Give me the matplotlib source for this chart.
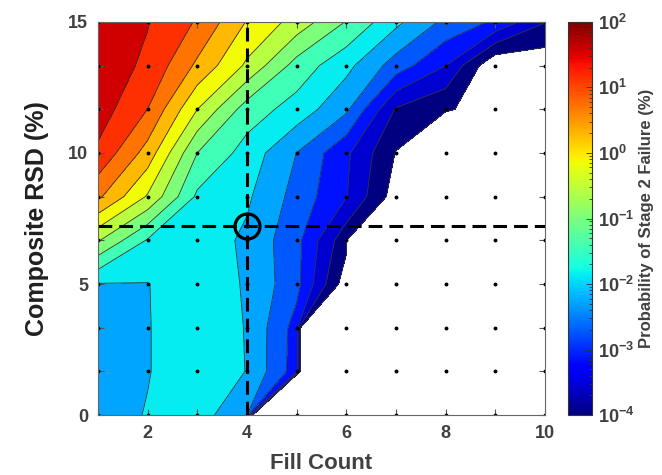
import numpy as np
import matplotlib.pyplot as plt
from matplotlib.colors import LogNorm
from matplotlib.cm import ScalarMappable
from matplotlib.ticker import MultipleLocator, FixedLocator, LogLocator

plt.rcParams['font.family'] = ['Liberation Sans', 'DejaVu Sans']
plt.rcParams['font.weight'] = 'bold'
plt.rcParams['mathtext.fontset'] = 'custom'
plt.rcParams['mathtext.rm'] = 'Liberation Sans:bold'
plt.rcParams['mathtext.it'] = 'Liberation Sans:bold'
plt.rcParams['mathtext.bf'] = 'Liberation Sans:bold'

fill_count = [1, 2, 3, 4, 5, 6, 7, 8, 9, 10]
rsd = [0, 5 / 3, 10 / 3, 5, 20 / 3, 25 / 3, 10, 35 / 3, 40 / 3, 15]

# log10 of stage 2 failure probability (%), one list per RSD row (bottom to top)
# nan = no failures seen
nf = np.nan
logp_r0 = [-2.07, -1.83, -1.64, -2.27, nf, nf, nf, nf, nf, nf]
logp_r1 = [-2.07, -1.88, -1.56, -1.87, -2.93, nf, nf, nf, nf, nf]
logp_r2 = [-2.07, -1.88, -1.56, -1.88, -2.89, nf, nf, nf, nf, nf]
logp_r3 = [-1.88, -1.87, -1.60, -1.90, -2.58, -4.26, nf, nf, nf, nf]
logp_r4 = [-0.53, -1.47, -1.60, -1.94, -2.59, -3.87, nf, nf, nf, nf]
logp_r5 = [0.80, -0.19, -1.51, -1.79, -2.44, -3.12, -4.21, -4.86, -5.07, -5.29]
logp_r6 = [1.49, 0.54, -1.00, -1.60, -2.29, -3.06, -4.02, -4.64, -4.86, -5.07]
logp_r7 = [1.79, 1.14, -0.14, -1.21, -1.60, -2.20, -3.61, -3.96, -4.17, -4.64]
logp_r8 = [1.79, 1.50, 0.63, -0.22, -1.17, -1.73, -2.48, -3.14, -4.40, -4.32]
logp_r9 = [1.91, 1.59, 1.10, 0.26, -0.31, -1.02, -1.75, -2.39, -2.78, -3.55]

design_count = 4
design_rsd = 7.2

X, Y = np.meshgrid(fill_count, rsd)
Z = np.array([logp_r0, logp_r1, logp_r2, logp_r3, logp_r4,
              logp_r5, logp_r6, logp_r7, logp_r8, logp_r9])
Z = np.where(np.isnan(Z), -17.0, Z)

levels = np.linspace(-4, 2, 15)
band_colors = [plt.cm.jet(k / 14) for k in range(14)]

fig = plt.figure(figsize=(6.62, 4.75), dpi=100)
ax = fig.add_axes([0.148, 0.126, 0.675, 0.828])

ax.contourf(X, Y, Z, levels=levels, colors=band_colors)
ax.contour(X, Y, Z, levels=levels, colors='#333333', linewidths=0.6,
           linestyles='solid')

ax.plot(X.ravel(), Y.ravel(), 'o', color='k', ms=1.8, ls='none')

ax.axvline(design_count, color='k', lw=2.2, dashes=(4.5, 2.3))
ax.axhline(design_rsd, color='k', lw=2.2, dashes=(4.5, 2.3))
ax.plot(design_count, design_rsd, 'o', mfc='none', mec='k', ms=18, mew=2.3)

ax.set_xlim(1, 10)
ax.set_ylim(0, 15)
ax.xaxis.set_major_locator(FixedLocator([2, 4, 6, 8, 10]))
ax.xaxis.set_minor_locator(FixedLocator([1, 3, 5, 7, 9]))
ax.yaxis.set_major_locator(MultipleLocator(5))
ax.yaxis.set_minor_locator(MultipleLocator(5 / 3))
ax.tick_params(which='both', direction='in', top=True, right=True,
               length=4, width=0.8, color='#555555')
ax.tick_params(labelsize=13, labelcolor='#404040', pad=7)
for s in ax.spines.values():
    s.set_color('#666666')
    s.set_linewidth(0.8)

ax.set_xlabel('Fill Count', fontsize=16, fontweight='bold', color='#404040',
              labelpad=8)
ax.set_ylabel('Composite RSD (%)', fontsize=18, fontweight='bold', color='#202020',
              labelpad=14)

cax = fig.add_axes([0.858, 0.126, 0.037, 0.828])
sm = ScalarMappable(norm=LogNorm(1e-4, 1e2), cmap='jet')
cbar = fig.colorbar(sm, cax=cax)
exps = [-4, -3, -2, -1, 0, 1, 2]
cbar.set_ticks([10.0 ** e for e in exps])
cbar.set_ticklabels([r'$\mathbf{10^{%d}}$' % e for e in exps])
cbar.ax.yaxis.set_minor_locator(LogLocator(subs=range(2, 10)))
cbar.ax.tick_params(which='both', direction='in', color='#333333', width=0.6)
cbar.ax.tick_params(which='major', length=4)
cbar.ax.tick_params(which='minor', length=2)
cbar.ax.tick_params(labelsize=13, labelcolor='#404040', pad=4)
cbar.outline.set_edgecolor('#333333')
cbar.set_label('Probability of Stage 2 Failure (%)', fontsize=12, fontweight='bold',
               color='#404040', labelpad=3)

fig.savefig('out.png', dpi=100)
